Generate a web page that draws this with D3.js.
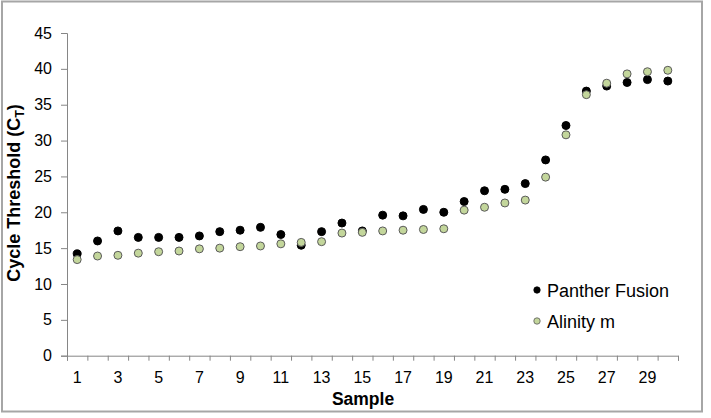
<!DOCTYPE html>
<html>
<head>
<meta charset="utf-8">
<script src="https://cdn.jsdelivr.net/npm/d3@7"></script>
<style>
  body { margin: 0; background: #fff; }
  svg { font-family: "Liberation Sans", Arial, sans-serif; }
</style>
</head>
<body>
<svg id="chart" width="711" height="418"></svg>
<script>
// sample numbers 1..30
var samples = [1,2,3,4,5,6,7,8,9,10,11,12,13,14,15,16,17,18,19,20,21,22,23,24,25,26,27,28,29,30];

// CT values
var pantherFusion = [14.2,16.0,17.4,16.5,16.5,16.5,16.7,17.3,17.5,17.9,16.9,15.4,17.3,18.5,17.4,
  19.6,19.5,20.4,20.0,21.5,23.0,23.2,24.0,27.3,32.1,36.9,37.6,38.1,38.5,38.3];
var alinityM = [13.4,13.9,14.0,14.3,14.5,14.6,14.9,15.0,15.2,15.3,15.6,15.8,15.9,17.1,17.2,
  17.4,17.5,17.6,17.7,20.3,20.7,21.3,21.7,24.9,30.8,36.4,38.0,39.3,39.6,39.8];

var yTicks = [0,5,10,15,20,25,30,35,40,45];
var xLabels = [1,3,5,7,9,11,13,15,17,19,21,23,25,27,29];

var series = [
	{ name: "Panther Fusion", values: pantherFusion, fill: "#000", stroke: "#000" },
	{ name: "Alinity m", values: alinityM, fill: "#c3d69b", stroke: "#5a5a5a" }
];

var svg = d3.select("#chart");
var plotLeft = 67, plotRight = 678, plotTop = 33, plotBottom = 355.7;
var axisColor = "#868686";

// outer frame
svg.append("rect")
	.attr("x", 2).attr("y", 1.5)
	.attr("width", 700).attr("height", 410)
	.attr("fill", "none")
	.attr("stroke", "#a6a6a6")
	.attr("stroke-width", 2);

var x = d3.scaleLinear().domain([0.5, 30.5]).range([plotLeft, plotRight]);
var y = d3.scaleLinear().domain([0, 45]).range([plotBottom, plotTop]);

// y axis
var yAxis = svg.append("g")
	.attr("transform", "translate(" + plotLeft + ",0)")
	.call(d3.axisLeft(y).tickValues(yTicks).tickSize(6).tickPadding(9));
yAxis.select(".domain").attr("stroke", axisColor);
yAxis.selectAll(".tick line").attr("stroke", axisColor);
yAxis.selectAll("text").attr("font-size", 16).attr("fill", "#000").attr("font-family", null);

// x axis: ticks between samples
var xTickPos = samples.map(function(s) { return s - 0.5; }).concat([30.5]);
var xAxis = svg.append("g")
	.attr("transform", "translate(0," + plotBottom + ")")
	.call(d3.axisBottom(x).tickValues(xTickPos).tickSize(5).tickFormat(""));
xAxis.select(".domain").attr("stroke", axisColor);
xAxis.selectAll(".tick line").attr("stroke", axisColor);

// x labels on odd samples
svg.append("g").selectAll("text")
	.data(xLabels)
	.enter()
	.append("text")
	.attr("x", function(d) { return x(d); })
	.attr("y", 383)
	.attr("text-anchor", "middle")
	.attr("font-size", 16)
	.text(function(d) { return d; });

// axis titles
svg.append("text")
	.attr("x", 363).attr("y", 405)
	.attr("text-anchor", "middle")
	.attr("font-size", 17.5)
	.attr("font-weight", "bold")
	.text("Sample");

var yTitle = svg.append("text")
	.attr("transform", "translate(20,193) rotate(-90)")
	.attr("text-anchor", "middle")
	.attr("font-size", 18)
	.attr("font-weight", "bold");
yTitle.append("tspan").text("Cycle Threshold (C");
yTitle.append("tspan").attr("font-size", 12.5).attr("dy", 4).text("T");
yTitle.append("tspan").attr("dy", -4).text(")");

// dots
series.forEach(function(s) {
	svg.append("g").selectAll("circle")
		.data(s.values)
		.enter()
		.append("circle")
		.attr("cx", function(v, i) { return x(samples[i]); })
		.attr("cy", function(v) { return y(v); })
		.attr("r", 4)
		.attr("fill", s.fill)
		.attr("stroke", s.stroke)
		.attr("stroke-width", 1);
});

// legend
var legend = svg.append("g").selectAll("g")
	.data(series)
	.enter()
	.append("g")
	.attr("transform", function(d, i) { return "translate(537," + (290 + i * 31) + ")"; });
legend.append("circle")
	.attr("r", 3.2)
	.attr("fill", function(d) { return d.fill; })
	.attr("stroke", function(d) { return d.stroke; })
	.attr("stroke-width", 0.8);
legend.append("text")
	.attr("x", 10).attr("y", 6.5)
	.attr("font-size", 18)
	.text(function(d) { return d.name; });
</script>
</body>
</html>
